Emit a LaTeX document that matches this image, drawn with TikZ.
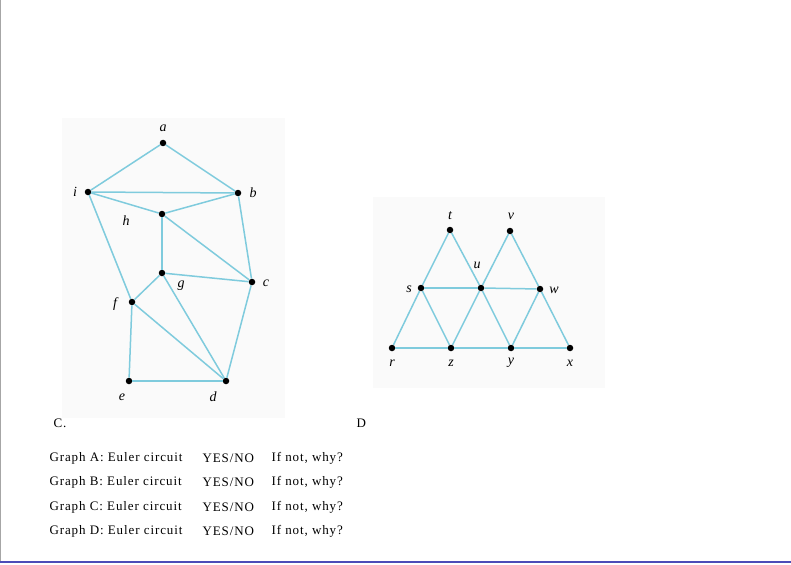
\documentclass[tikz,border=0pt]{standalone}
\usepackage{fontspec}
\setmainfont{Liberation Serif}
\begin{document}
\begin{tikzpicture}[x=1pt,y=-1pt,
  v/.style={circle,fill=black,inner sep=0pt,minimum size=6.5pt},
  e/.style={draw=edgeblue,line width=1.5pt},
  lab/.style={font=\itshape\fontsize{14}{14}\selectfont},
  txt/.style={font=\fontsize{13}{14}\selectfont\addfontfeature{LetterSpace=7},anchor=west}]
\definecolor{edgeblue}{HTML}{7FCBDD}
\useasboundingbox (0,0) rectangle (791,564);
\fill[white] (0,0) rectangle (791,564);
\fill[black!2] (62,118) rectangle (285,418);
\fill[black!2] (373,197) rectangle (605,388);
\draw[black!35] (0.5,0) -- (0.5,562);
\draw[blue!60!black!70,line width=1.5pt] (0,562) -- (791,562);
% Graph C
\node[v] (a) at (163,143) {};
\node[v] (i) at (88,192) {};
\node[v] (b) at (238,193) {};
\node[v] (h) at (162,214) {};
\node[v] (g) at (162,273) {};
\node[v] (c) at (252,282) {};
\node[v] (f) at (132,302) {};
\node[v] (e) at (129,381) {};
\node[v] (d) at (226,381) {};
\foreach \p/\q in {a/i,a/b,i/b,i/h,h/b,i/f,h/g,h/c,b/c,g/c,g/f,g/d,f/d,f/e,e/d,c/d}
  \draw[e] (\p) -- (\q);
\node[lab] at (163,128) {a};
\node[lab] at (75,192) {i};
\node[lab] at (253,193) {b};
\node[lab] at (126,221) {h};
\node[lab] at (181,286) {g};
\node[lab] at (266,283) {c};
\node[lab] at (115,304) {f};
\node[lab] at (122,397) {e};
\node[lab] at (213,397) {d};
% Graph D
\node[v] (t) at (450,230) {};
\node[v] (vv) at (510,231) {};
\node[v] (s) at (421,288) {};
\node[v] (u) at (481,288) {};
\node[v] (w) at (540,289) {};
\node[v] (r) at (392,348) {};
\node[v] (z) at (451,348) {};
\node[v] (y) at (511,348) {};
\node[v] (x) at (570,348) {};
\foreach \p/\q in {t/s,t/u,vv/u,vv/w,s/u,u/w,r/s,s/z,u/z,u/y,w/y,w/x,r/z,z/y,y/x}
  \draw[e] (\p) -- (\q);
\node[lab] at (450,216) {t};
\node[lab] at (511,216) {v};
\node[lab] at (477,265) {u};
\node[lab] at (409,289) {s};
\node[lab] at (554,290) {w};
\node[lab] at (392,363) {r};
\node[lab] at (451,363) {z};
\node[lab] at (511,363) {y};
\node[lab] at (570,363) {x};
% text
\node[txt] (C) at (50,423) {C.};
\node[txt] (D) at (353,423) {D};
\foreach \L/\yy in {A/458,B/482,C/507,D/531}{
  \node[txt] at (46,\yy) {Graph \L: Euler circuit};
  \node[txt] at (199,\yy) {YES/NO};
  \node[txt] at (268,\yy) {If not, why?};
}
\end{tikzpicture}
\end{document}
